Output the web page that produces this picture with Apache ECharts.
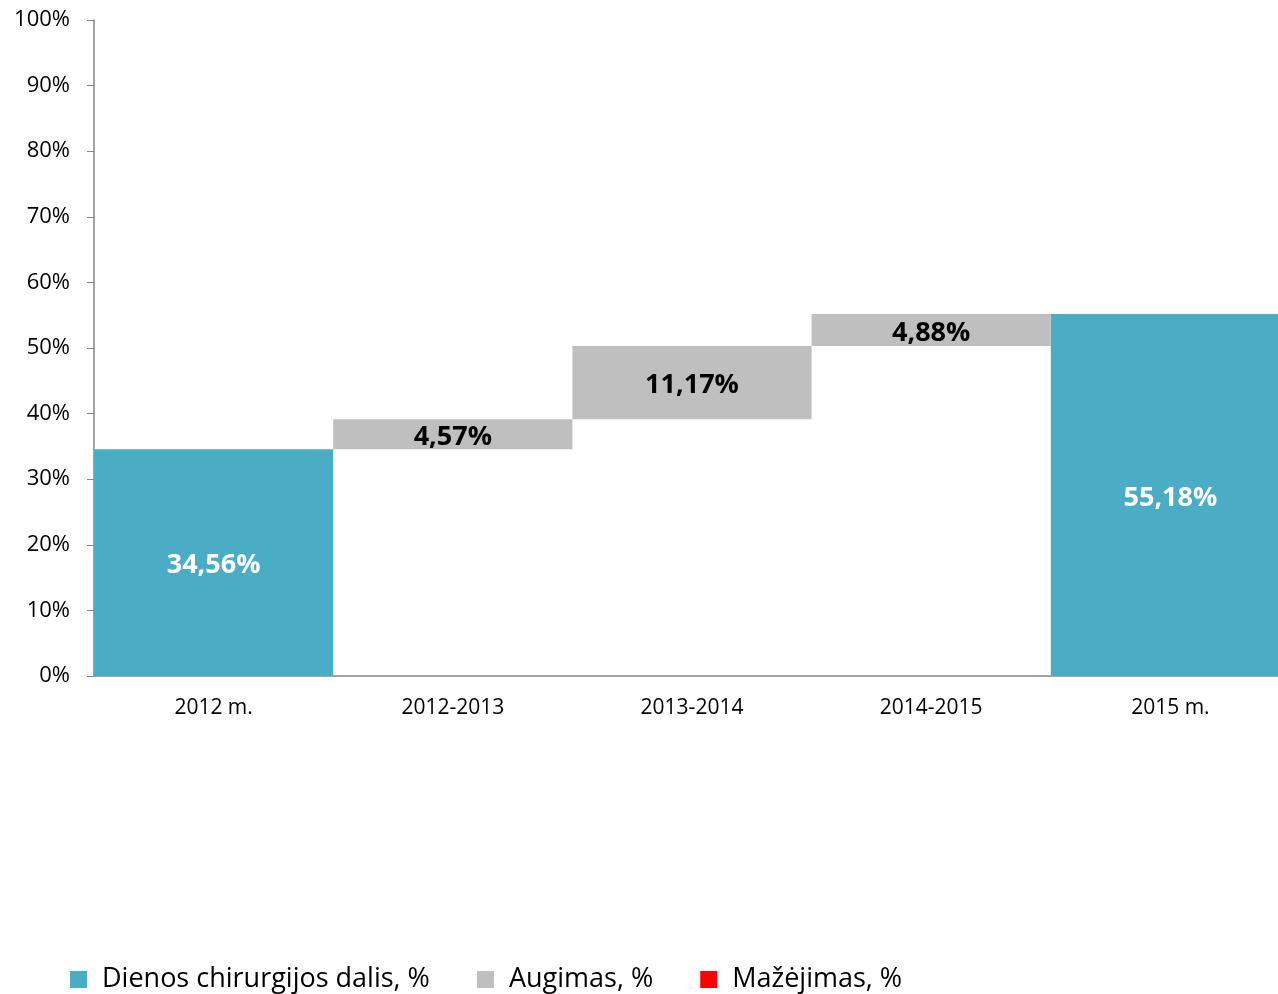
<!DOCTYPE html>
<html>
<head>
<meta charset="utf-8">
<script src="https://cdn.jsdelivr.net/npm/echarts@6/dist/echarts.min.js"></script>
<style>
  html, body { margin: 0; padding: 0; background: #fff; }
  #chart { width: 1278px; height: 994px; }
</style>
</head>
<body>
<div id="chart"></div>
<script>
const categories = ["2012 m.", "2012-2013", "2013-2014", "2014-2015", "2015 m."];
const baseValues = [0, 34.56, 39.13, 50.30, 0];
const shareValues = [34.56, "-", "-", "-", 55.18];
const growthValues = ["-", 4.57, 11.17, 4.88, "-"];
const declineValues = ["-", "-", "-", "-", "-"];

const font = "'Open Sans', 'Noto Sans', sans-serif";
const fmt = (p) => p.value.toFixed(2).replace(".", ",") + "%";

const chart = echarts.init(document.getElementById("chart"));
chart.setOption({
  animation: false,
  textStyle: { fontFamily: font },
  grid: { left: 94, top: 20, width: 1196, height: 656, outerBoundsMode: "none" },
  legend: {
    left: 65,
    bottom: -4,
    itemWidth: 17,
    itemHeight: 17,
    itemGap: 47,
    icon: "rect",
    textStyle: { fontSize: 27, color: "#000", fontFamily: font, padding: [0, 0, 0, 10] },
    data: ["Dienos chirurgijos dalis, %", "Augimas, %", "Mažėjimas, %"]
  },
  xAxis: {
    type: "category",
    data: categories,
    axisLine: { lineStyle: { color: "#868686", width: 1.5 } },
    axisTick: { length: 7, lineStyle: { color: "#868686" } },
    axisLabel: { color: "#000", fontSize: 21, margin: 22, fontFamily: font }
  },
  yAxis: {
    type: "value",
    min: 0,
    max: 100,
    interval: 10,
    splitLine: { show: false },
    axisLine: { show: true, lineStyle: { color: "#868686", width: 1.5 } },
    axisTick: { show: true, length: 7, lineStyle: { color: "#868686" } },
    axisLabel: { color: "#000", fontSize: 22, margin: 24, formatter: "{value}%", fontFamily: font }
  },
  series: [
    {
      name: "base",
      type: "bar",
      stack: "w",
      data: baseValues,
      barCategoryGap: 0,
      itemStyle: { color: "transparent" },
      emphasis: { disabled: true },
      silent: true
    },
    {
      name: "Dienos chirurgijos dalis, %",
      type: "bar",
      stack: "w",
      data: shareValues,
      barCategoryGap: 0,
      itemStyle: { color: "#4BACC6" },
      label: {
        show: true, position: "inside", color: "#fff", offset: [0, 3],
        fontSize: 27, fontWeight: "bold", formatter: fmt, fontFamily: font
      }
    },
    {
      name: "Augimas, %",
      type: "bar",
      stack: "w",
      data: growthValues,
      barCategoryGap: 0,
      itemStyle: { color: "#BFBFBF" },
      label: {
        show: true, position: "inside", color: "#000", offset: [0, 3],
        fontSize: 27, fontWeight: "bold", formatter: fmt, fontFamily: font
      }
    },
    {
      name: "Mažėjimas, %",
      type: "bar",
      stack: "w",
      data: declineValues,
      barCategoryGap: 0,
      itemStyle: { color: "#FF0000" }
    }
  ]
});
</script>
</body>
</html>
